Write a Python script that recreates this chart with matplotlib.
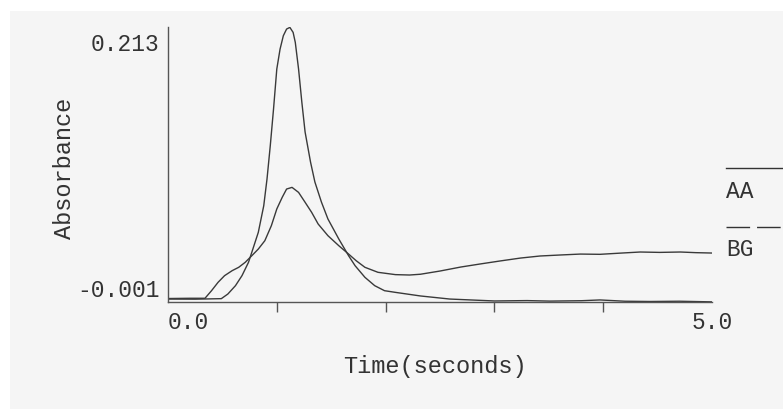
import matplotlib
matplotlib.use('Agg')
import matplotlib.pyplot as plt
import matplotlib.transforms as mtransforms
from matplotlib.lines import Line2D
from matplotlib.patches import Rectangle

# AA signal (sharp peak)
aa_time = [0.00, 0.25, 0.49, 0.55, 0.62, 0.68, 0.74, 0.78, 0.83, 0.88, 0.91, 0.94,
           0.97, 1.00, 1.03, 1.06, 1.09, 1.12, 1.15, 1.17, 1.20, 1.23, 1.26, 1.31,
           1.35, 1.41, 1.47, 1.57, 1.66, 1.72, 1.81, 1.90, 1.99, 2.09, 2.32, 2.59,
           3.00, 3.30, 3.51, 3.80, 3.97, 4.20, 4.43, 4.70, 5.00]
aa_abs = [0.0013, 0.0012, 0.0016, 0.0052, 0.0117, 0.0195, 0.0299, 0.0402, 0.0532,
          0.0739, 0.0947, 0.1206, 0.1492, 0.1803, 0.1958, 0.2062, 0.2114, 0.2127,
          0.2088, 0.2010, 0.1803, 0.1546, 0.1313, 0.1079, 0.0924, 0.0768, 0.0636,
          0.0480, 0.0350, 0.0272, 0.0182, 0.0117, 0.0078, 0.0065, 0.0037, 0.0013,
          -0.0002, 0.0001, -0.0003, 0.0000, 0.0006, -0.0004, -0.0006, -0.0004, -0.0009]

# BG signal (broad peak, raised tail)
bg_time = [0.00, 0.20, 0.34, 0.40, 0.46, 0.52, 0.59, 0.65, 0.71, 0.77, 0.83, 0.89,
           0.95, 1.00, 1.05, 1.09, 1.14, 1.20, 1.26, 1.32, 1.38, 1.47, 1.57, 1.66,
           1.73, 1.81, 1.93, 2.09, 2.22, 2.32, 2.50, 2.69, 2.87, 3.05, 3.24, 3.42,
           3.61, 3.79, 3.97, 4.15, 4.34, 4.52, 4.71, 4.85, 5.00]
bg_abs = [0.0017, 0.0019, 0.0019, 0.0078, 0.0143, 0.0195, 0.0234, 0.0260, 0.0299,
          0.0350, 0.0402, 0.0467, 0.0584, 0.0714, 0.0805, 0.0869, 0.0882, 0.0843,
          0.0766, 0.0688, 0.0597, 0.0506, 0.0428, 0.0363, 0.0311, 0.0260, 0.0221,
          0.0203, 0.0200, 0.0206, 0.0231, 0.0262, 0.0286, 0.0309, 0.0332, 0.0348,
          0.0356, 0.0363, 0.0361, 0.0370, 0.0379, 0.0376, 0.0379, 0.0374, 0.0371]

y_min, y_max = -0.001, 0.213
x_min, x_max = 0.0, 5.0

ink = '#333333'
font = 'Liberation Mono'

fig = plt.figure(figsize=(7.83, 4.10), dpi=100, facecolor='white')
fig.patches.append(Rectangle((10 / 783, 0), 1, 1 - 12 / 410, transform=fig.transFigure,
                             facecolor='#f5f5f5', edgecolor='none', zorder=-10))
ax = fig.add_axes([168 / 783, 1 - 303 / 410, 544 / 783, 275 / 410])
ax.patch.set_visible(False)

ax.plot(aa_time, aa_abs, color='#3a3a3a', linewidth=1.0)
ax.plot(bg_time, bg_abs, color='#3a3a3a', linewidth=1.0)

ax.set_xlim(x_min, x_max)
ax.set_ylim(y_min, y_max)

for s in ['top', 'right']:
    ax.spines[s].set_visible(False)
for s in ['left', 'bottom']:
    ax.spines[s].set_color('#555555')
    ax.spines[s].set_linewidth(1.0)

# x ticks: marks at 1..4, labels only at the ends
ax.set_xticks([1, 2, 3, 4])
ax.set_xticklabels([])
ax.tick_params(axis='x', which='major', direction='out', length=7.5, width=1.0, color='#555555')
ax.set_xticks([x_min, x_max], minor=True)
ax.set_xticklabels(['0.0', '5.0'], minor=True, fontfamily=font, fontsize=16.5, color=ink)
ax.tick_params(axis='x', which='minor', length=0, pad=6)
ax.get_xticklabels(minor=True)[0].set_horizontalalignment('left')

# y ticks: labels only, nudged inward
ax.set_yticks([y_min, y_max])
ax.set_yticklabels(['-0.001', '0.213'], fontfamily=font, fontsize=16.5, color=ink)
ax.tick_params(axis='y', length=0, pad=6)
lbls = ax.get_yticklabels()
lbls[0].set_transform(lbls[0].get_transform() + mtransforms.ScaledTranslation(0, 0.15, fig.dpi_scale_trans))
lbls[1].set_transform(lbls[1].get_transform() + mtransforms.ScaledTranslation(0, -0.14, fig.dpi_scale_trans))

ax.set_xlabel('Time(seconds)', fontfamily=font, fontsize=17, color=ink)
ax.xaxis.set_label_coords(0.49, -0.19)
ax.set_ylabel('Absorbance', fontfamily=font, fontsize=17, color=ink)
ax.yaxis.set_label_coords(-0.17, 0.49)

# legend at the right edge
fig.add_artist(Line2D([726 / 783, 1.0], [1 - 169 / 410] * 2, transform=fig.transFigure,
                      color=ink, linewidth=1.0))
fig.text(726 / 783, 1 - 192 / 410, 'AA', fontfamily=font, fontsize=16.5, color=ink,
         ha='left', va='center')
fig.add_artist(Line2D([726 / 783, 1.0], [1 - 228 / 410] * 2, transform=fig.transFigure,
                      color=ink, linewidth=1.0, dashes=(17, 5)))
fig.text(726 / 783, 1 - 250 / 410, 'BG', fontfamily=font, fontsize=16.5, color=ink,
         ha='left', va='center')

fig.savefig('out.png', dpi=100, facecolor=fig.get_facecolor())
